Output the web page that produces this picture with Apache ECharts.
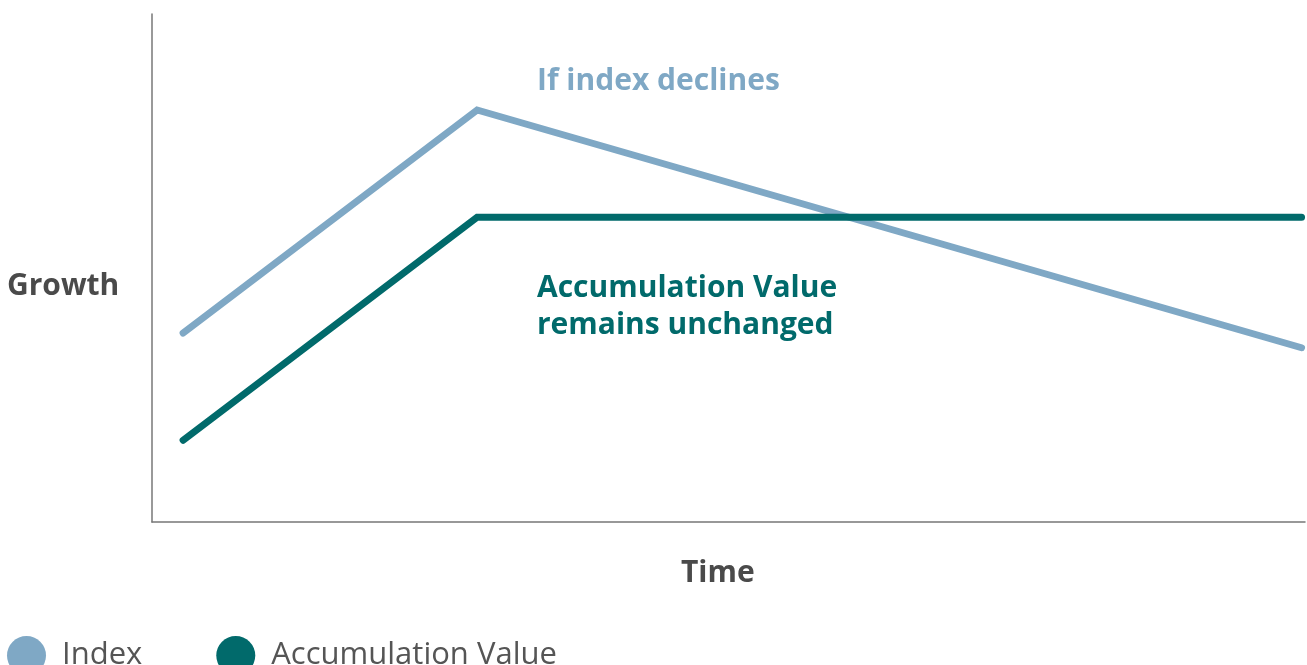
<!DOCTYPE html>
<html>
<head>
<meta charset="utf-8">
<script src="https://cdn.jsdelivr.net/npm/echarts@6/dist/echarts.min.js"></script>
<style>
  html, body { margin: 0; padding: 0; background: #fff; }
  #chart { width: 1307px; height: 665px; }
</style>
</head>
<body>
<div id="chart"></div>
<script>
// data (x: time 0-100, y: growth 0-100)
var timePoints = [2.7, 28.2, 99.7];
var indexValues = [37.2, 81.1, 34.3];
var accumValues = [16.1, 60.0, 60.0];
var seriesNames = ['Index', 'Accumulation Value'];

var indexColor = '#7fa8c5';
var accumColor = '#016a6b';

function pairs(xs, ys) {
    return xs.map(function (x, i) { return [x, ys[i]]; });
}

var chart = echarts.init(document.getElementById('chart'));

var boldText = { fontFamily: 'Open Sans', fontWeight: 'bold', fontSize: 30 };

var option = {
    animation: false,
    grid: { left: 152, right: 2, top: 14, bottom: 143 },
    legend: {
        data: seriesNames,
        left: 7,
        top: 636,
        padding: 0,
        icon: 'circle',
        itemWidth: 39,
        itemHeight: 39,
        itemGap: 74,
        textStyle: {
            fontFamily: 'Open Sans',
            fontSize: 31,
            color: '#555',
            padding: [0, 0, 20, 11]
        }
    },
    xAxis: {
        type: 'value',
        min: 0,
        max: 100,
        axisLine: { lineStyle: { color: '#777', width: 1.5 } },
        axisTick: { show: false },
        axisLabel: { show: false },
        splitLine: { show: false }
    },
    yAxis: {
        type: 'value',
        min: 0,
        max: 100,
        axisLine: { show: true, lineStyle: { color: '#777', width: 1.5 } },
        axisTick: { show: false },
        axisLabel: { show: false },
        splitLine: { show: false }
    },
    graphic: [
        { type: 'text', left: 7, top: 271, style: Object.assign({ text: 'Growth', fill: '#4a4a4a' }, boldText) },
        { type: 'text', left: 681, top: 558, style: Object.assign({ text: 'Time', fill: '#4a4a4a' }, boldText) },
        { type: 'text', left: 537, top: 66, style: Object.assign({ text: 'If index declines', fill: indexColor }, boldText) },
        { type: 'text', left: 537, top: 270, style: Object.assign({ text: 'Accumulation Value\nremains unchanged', lineHeight: 37, fill: accumColor }, boldText) }
    ],
    series: [
        {
            name: seriesNames[0],
            type: 'line',
            data: pairs(timePoints, indexValues),
            showSymbol: false,
            color: indexColor,
            lineStyle: { width: 7, cap: 'round', join: 'miter' }
        },
        {
            name: seriesNames[1],
            type: 'line',
            data: pairs(timePoints, accumValues),
            showSymbol: false,
            color: accumColor,
            lineStyle: { width: 7, cap: 'round', join: 'miter' }
        }
    ]
};

chart.setOption(option);
</script>
</body>
</html>
